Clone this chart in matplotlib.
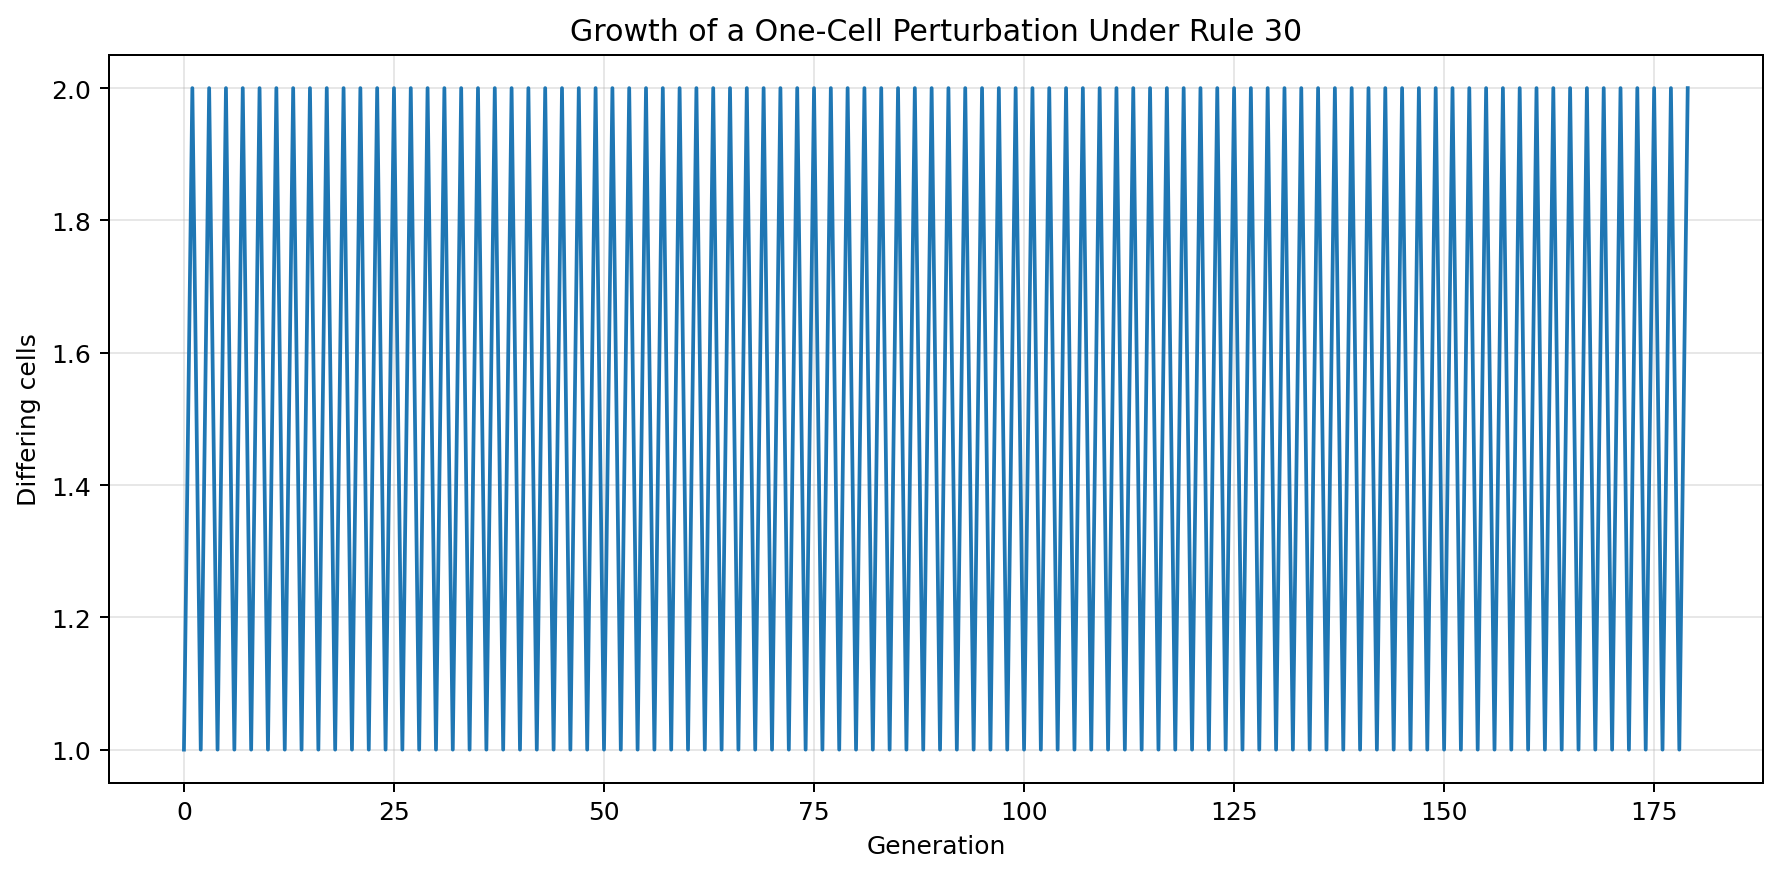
import matplotlib
matplotlib.use("Agg")
import matplotlib.pyplot as plt

# number of differing cells per generation
differing_cells = [
    1, 2, 1, 2, 1, 2, 1, 2, 1, 2, 1, 2, 1, 2, 1, 2, 1, 2, 1, 2,
    1, 2, 1, 2, 1, 2, 1, 2, 1, 2, 1, 2, 1, 2, 1, 2, 1, 2, 1, 2,
    1, 2, 1, 2, 1, 2, 1, 2, 1, 2, 1, 2, 1, 2, 1, 2, 1, 2, 1, 2,
    1, 2, 1, 2, 1, 2, 1, 2, 1, 2, 1, 2, 1, 2, 1, 2, 1, 2, 1, 2,
    1, 2, 1, 2, 1, 2, 1, 2, 1, 2, 1, 2, 1, 2, 1, 2, 1, 2, 1, 2,
    1, 2, 1, 2, 1, 2, 1, 2, 1, 2, 1, 2, 1, 2, 1, 2, 1, 2, 1, 2,
    1, 2, 1, 2, 1, 2, 1, 2, 1, 2, 1, 2, 1, 2, 1, 2, 1, 2, 1, 2,
    1, 2, 1, 2, 1, 2, 1, 2, 1, 2, 1, 2, 1, 2, 1, 2, 1, 2, 1, 2,
    1, 2, 1, 2, 1, 2, 1, 2, 1, 2, 1, 2, 1, 2, 1, 2, 1, 2, 1, 2,
]
generations = list(range(len(differing_cells)))

DPI = 180
fig = plt.figure(figsize=(1780 / DPI, 877 / DPI), dpi=DPI)
ax = fig.add_axes([0.0611, 0.1064, 0.9293, 0.8297])

ax.plot(generations, differing_cells, color="#1f77b4")
ax.set_title("Growth of a One-Cell Perturbation Under Rule 30")
ax.set_xlabel("Generation")
ax.set_ylabel("Differing cells")
ax.grid(True, alpha=0.3)

fig.savefig("out.png", dpi=DPI)
